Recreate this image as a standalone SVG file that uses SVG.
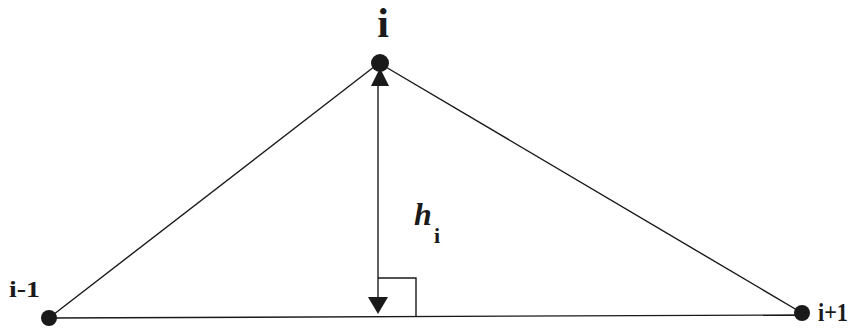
<svg xmlns="http://www.w3.org/2000/svg" width="852" height="330" viewBox="0 0 852 330">
<defs>
<style>
.ln{stroke:#1a1a1a;stroke-width:1.4;fill:none}
.nd{fill:#1a1a1a}
.lb{font-family:"Liberation Serif","Times New Roman",serif;font-weight:bold;fill:#1a1a1a}
</style>
</defs>
<rect width="852" height="330" fill="#fff"/>
<g id="connectors">
<line class="ln" x1="49" y1="318" x2="379" y2="63"/>
<line class="ln" x1="379" y1="63" x2="802" y2="313"/>
<line class="ln" x1="49" y1="318" x2="802" y2="315"/>
<line class="ln" x1="378" y1="80" x2="378" y2="300"/>
<path d="M380,68 L389,86 L371,86 z" class="nd"/>
<path d="M368,297 L388,297 L378,314 z" class="nd"/>
<polyline class="ln" points="378,278 416,278 416,317"/>
</g>
<g id="node-i">
<circle class="nd" cx="380" cy="63" r="9"/>
<text class="lb" x="383" y="37" font-size="42" text-anchor="middle">i</text>
</g>
<g id="node-im1">
<circle class="nd" cx="49" cy="318" r="8"/>
<text class="lb" x="9" y="297" font-size="24" textLength="31" lengthAdjust="spacingAndGlyphs">i-1</text>
</g>
<g id="node-ip1">
<circle class="nd" cx="802" cy="313" r="8"/>
<text class="lb" x="818" y="321" font-size="26" textLength="30" lengthAdjust="spacingAndGlyphs">i+1</text>
</g>
<g id="label-h">
<text class="lb" x="414" y="225" font-size="32" font-style="italic">h</text>
<text class="lb" x="434" y="243" font-size="22">i</text>
</g>
</svg>
